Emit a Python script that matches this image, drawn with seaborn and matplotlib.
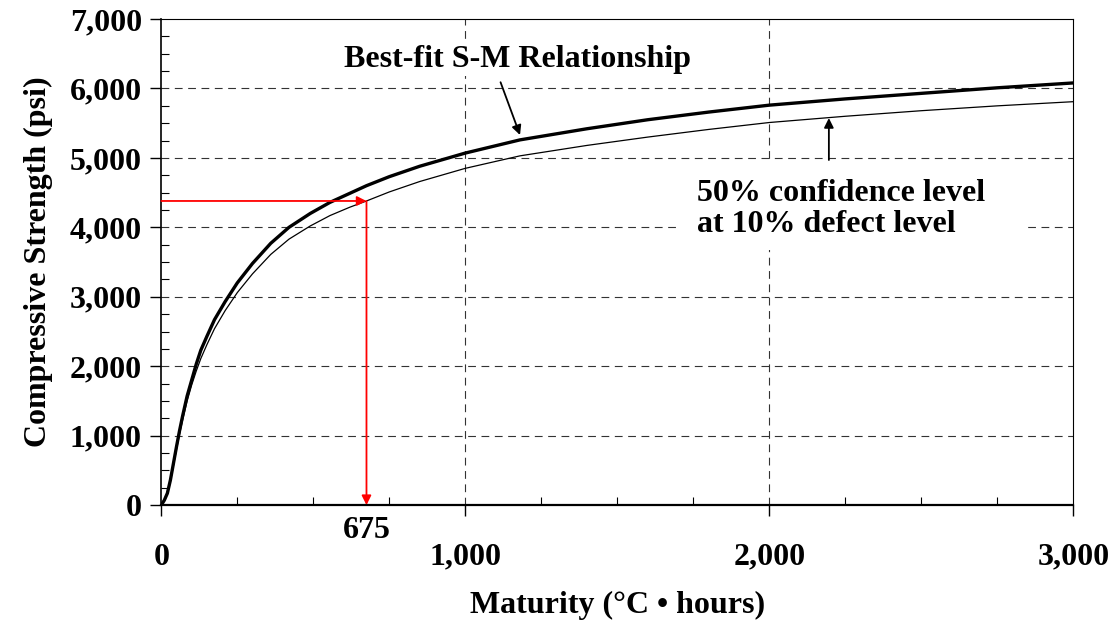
import matplotlib
matplotlib.use("Agg")
import matplotlib.pyplot as plt
import pandas as pd
import seaborn as sns
from matplotlib.patches import Rectangle

# Values
maturity = [0, 10, 20, 30, 40, 50, 60, 70, 85, 100, 115, 130, 150, 175, 210, 250,
            300, 360, 420, 490, 555, 620, 675, 750, 850, 1000, 1180, 1400, 1600,
            1800, 2000, 2250, 2500, 2750, 3000]
best_fit = [0, 70, 170, 360, 600, 840, 1070, 1280, 1570, 1800, 2030, 2230, 2430,
            2670, 2930, 3200, 3480, 3770, 4000, 4200, 4360, 4490, 4600, 4730, 4880,
            5070, 5260, 5420, 5550, 5660, 5760, 5850, 5930, 6010, 6080]
conf_50 = [0, 65, 160, 340, 570, 800, 1020, 1220, 1500, 1730, 1930, 2110, 2310,
           2540, 2800, 3060, 3330, 3610, 3830, 4020, 4170, 4290, 4380, 4510, 4660,
           4850, 5030, 5180, 5300, 5410, 5510, 5600, 5680, 5750, 5810]

target_maturity = 675
target_strength = 4380

x_ticks = [0, 1000, 2000, 3000]
y_ticks = [0, 1000, 2000, 3000, 4000, 5000, 6000, 7000]

df = pd.DataFrame({"maturity": maturity, "best": best_fit, "conf": conf_50})

sns.set_style("white")
plt.rcParams["font.family"] = ["Liberation Serif", "DejaVu Serif"]
plt.rcParams["font.weight"] = "bold"
plt.rcParams["text.color"] = "black"
plt.rcParams["axes.labelcolor"] = "black"

FS = 23

fig = plt.figure(figsize=(11.2, 6.29), dpi=100)
ax = fig.add_axes([0.144, 0.197, 0.8143, 0.7727])

sns.lineplot(data=df, x="maturity", y="best", ax=ax, color="black", lw=2.4, zorder=4)
sns.lineplot(data=df, x="maturity", y="conf", ax=ax, color="black", lw=0.9, zorder=4)

ax.set_xlim(0, 3000)
ax.set_ylim(0, 7000)
ax.set_xticks(x_ticks)
ax.set_xticklabels([f"{v:,}" for v in x_ticks])
ax.set_yticks(y_ticks)
ax.set_yticklabels([f"{v:,}" for v in y_ticks])
ax.set_xticks(range(250, 3000, 250), minor=True)
ax.set_yticks(range(250, 7000, 250), minor=True)

ax.tick_params(axis="both", which="major", direction="out", length=8, width=1,
               labelsize=FS, colors="black")
ax.tick_params(axis="x", which="major", pad=19)
ax.tick_params(axis="y", which="major", pad=6)
ax.tick_params(axis="both", which="minor", direction="in", length=5.5, width=0.8,
               colors="black")
ax.tick_params(axis="both", which="both", bottom=True, left=True, top=False, right=False)

for side, w in [("bottom", 1.6), ("left", 1.2), ("top", 0.8), ("right", 0.8)]:
    ax.spines[side].set_visible(True)
    ax.spines[side].set_color("black")
    ax.spines[side].set_linewidth(w)

# dashed grid lines
for v in y_ticks[1:-1]:
    ax.axhline(v, color="#333333", lw=0.8, ls=(0, (7, 5)), zorder=1)
for v in x_ticks[1:-1]:
    ax.axvline(v, color="#333333", lw=0.8, ls=(0, (7, 5)), zorder=1)

ax.set_xlabel("Maturity (°C • hours)", fontsize=FS, fontweight="bold", labelpad=14)
ax.set_ylabel("Compressive Strength (psi)", fontsize=FS, fontweight="bold", labelpad=12)

# red read-off arrows
ax.annotate("", xy=(target_maturity, target_strength), xytext=(0, target_strength),
            arrowprops=dict(arrowstyle="-|>", color="red", lw=1.3, mutation_scale=14,
                            shrinkA=0, shrinkB=0), zorder=5)
ax.annotate("", xy=(target_maturity, 0), xytext=(target_maturity, target_strength),
            arrowprops=dict(arrowstyle="-|>", color="red", lw=1.3, mutation_scale=14,
                            shrinkA=0, shrinkB=0), zorder=5)
ax.text(target_maturity, -360, f"{target_maturity}", ha="center", va="center",
        fontsize=FS, fontweight="bold", clip_on=False)

# annotations
ax.add_patch(Rectangle((1706, 3674), 1142, 1253, facecolor="white",
                       edgecolor="none", zorder=2))
ax.text(1762, 4265, "50% confidence level\nat 10% defect level", ha="left",
        va="center", fontsize=FS, fontweight="bold", linespacing=1.1, zorder=3)
ax.annotate("", xy=(2196, 5574), xytext=(2196, 4970),
            arrowprops=dict(arrowstyle="-|>", color="black", lw=1.3,
                            mutation_scale=14, shrinkA=0, shrinkB=0), zorder=5)

ax.text(1173, 6411, "Best-fit S-M Relationship", ha="center", va="center",
        fontsize=FS, fontweight="bold", zorder=3,
        bbox=dict(facecolor="white", edgecolor="none", pad=1))
ax.annotate("", xy=(1180, 5330), xytext=(1116, 6090),
            arrowprops=dict(arrowstyle="-|>", color="black", lw=1.3,
                            mutation_scale=14, shrinkA=0, shrinkB=0), zorder=5)

fig.savefig("out.png", dpi=100)
